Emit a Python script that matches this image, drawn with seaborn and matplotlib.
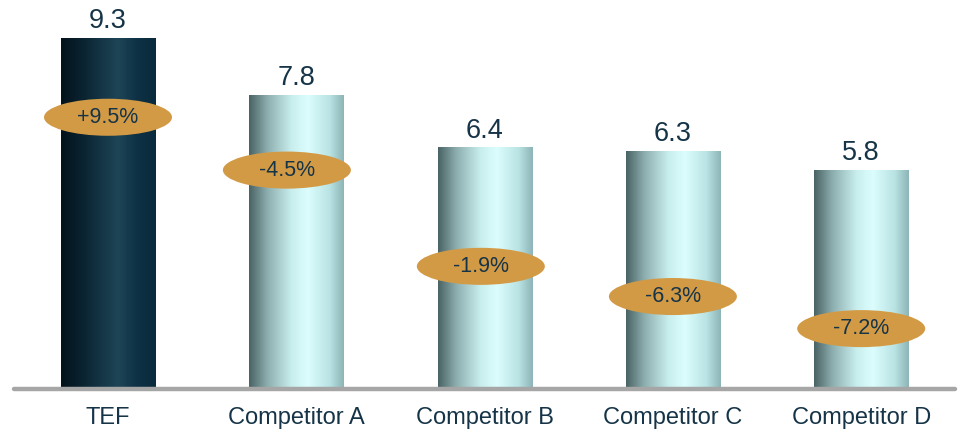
import numpy as np
import pandas as pd
import matplotlib
matplotlib.use("Agg")
import matplotlib.pyplot as plt
from matplotlib.colors import LinearSegmentedColormap
from matplotlib.patches import Ellipse
import seaborn as sns

categories = ["TEF", "Competitor A", "Competitor B", "Competitor C", "Competitor D"]
values = [9.3, 7.8, 6.4, 6.3, 5.8]
growth_labels = ["+9.5%", "-4.5%", "-1.9%", "-6.3%", "-7.2%"]
# vertical placement of the growth badges (data units)
badge_y = [7.2, 5.8, 3.25, 2.45, 1.6]
badge_dx = [0.0, -0.05, -0.02, 0.0, 0.0]

sns.set_theme(style="white")
plt.rcParams['font.family'] = ['Liberation Sans', 'DejaVu Sans']

df = pd.DataFrame({"cat": categories, "val": values})

fig = plt.figure(figsize=(9.61, 4.33), dpi=100)
ax = fig.add_axes([0, 44/433, 1, 389/433])
sns.barplot(data=df, x="cat", y="val", ax=ax, width=0.5, color="white",
            saturation=1, linewidth=0, zorder=2)

ax.set_ylim(0, 9.3 * 389 / 351)
ax.set_xlim(-108/188.3, (961-108)/188.3)

dark_cmap = LinearSegmentedColormap.from_list(
    "dark", [(0, "#03121b"), (0.25, "#0b2533"), (0.6, "#1e4557"), (0.8, "#0e3145"), (1, "#0a2a3c")])
light_cmap = LinearSegmentedColormap.from_list(
    "light", [(0, "#4a6364"), (0.2, "#8fb0b1"), (0.45, "#c9eeee"), (0.62, "#dcfdfd"), (0.85, "#b9e3e4"), (1, "#8db4b6")])

grad = np.linspace(0, 1, 256).reshape(1, -1)
for i, patch in enumerate(ax.patches):
    x0, y0 = patch.get_x(), patch.get_y()
    w, h = patch.get_width(), patch.get_height()
    cmap = dark_cmap if i == 0 else light_cmap
    im = ax.imshow(grad, cmap=cmap, aspect="auto", extent=[x0, x0 + w, y0, y0 + h],
                   zorder=2, interpolation="bicubic")
    im.set_clip_path(patch)
    ax.text(x0 + w / 2, y0 + h + 0.1, f"{values[i]:.1f}", ha="center", va="bottom",
            fontsize=19.5, color="#163447", zorder=5)
    cx = x0 + w / 2 + badge_dx[i]
    ell = Ellipse((cx, badge_y[i]), width=128/188.3, height=37/37.7,
                  facecolor="#d39a45", edgecolor="none", zorder=4)
    ax.add_patch(ell)
    ax.text(cx, badge_y[i], growth_labels[i], ha="center", va="center",
            fontsize=15.5, color="#163447", zorder=5)

ax.set_ylim(0, 9.3 * 389 / 351)
ax.set_xlim(-108/188.3, (961-108)/188.3)

ax.axhline(0, xmin=14/961, xmax=955/961, color="#a6a6a6", linewidth=3.2,
           solid_capstyle="round", zorder=3, clip_on=False)

sns.despine(ax=ax, left=True, bottom=True, top=True, right=True)
ax.set_xlabel("")
ax.set_ylabel("")
ax.set_yticks([])
ax.tick_params(axis="x", length=0, pad=13, labelsize=17, labelcolor="#163447")
ax.set_facecolor("white")
fig.savefig("out.png", dpi=100, facecolor="white")
